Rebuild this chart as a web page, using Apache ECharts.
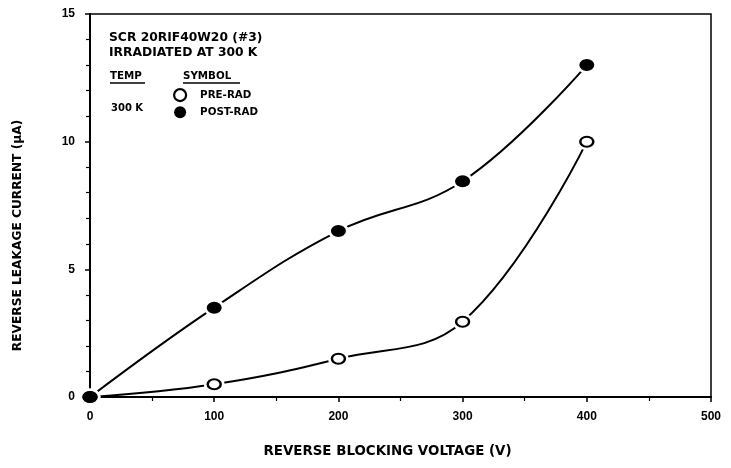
<!DOCTYPE html>
<html>
<head>
<meta charset="utf-8">
<script src="https://cdn.jsdelivr.net/npm/echarts@6/dist/echarts.min.js"></script>
<style>
html,body{margin:0;padding:0;background:#fff;}
#chart{width:731px;height:468px;}
</style>
</head>
<body>
<div id="chart"></div>
<script>
var voltage = [0, 100, 200, 300, 400];
var preRad = [0, 0.5, 1.5, 2.95, 10.0];
var postRad = [0, 3.5, 6.5, 8.45, 13.0];
var xTicks = [0, 100, 200, 300, 400, 500];
var yTicks = [0, 5, 10, 15];

function pairs(xs, ys) { return xs.map(function (x, i) { return [x, ys[i]]; }); }

var FONT = '"Liberation Sans", Arial, sans-serif';
var WIDE = '"DejaVu Sans", sans-serif';
var chart = echarts.init(document.getElementById('chart'));
var option = {
  backgroundColor: '#fff',
  animation: false,
  textStyle: { fontFamily: FONT, color: '#000' },
  grid: { left: 90, right: 20, top: 14, bottom: 71, show: true, borderColor: '#000', borderWidth: 1.5 },
  xAxis: {
    type: 'value', min: xTicks[0], max: xTicks[xTicks.length - 1], interval: 100,
    name: 'REVERSE BLOCKING VOLTAGE (V)', nameLocation: 'middle', nameGap: 48,
    nameTextStyle: { fontFamily: WIDE, fontWeight: 'bold', fontSize: 13.4, color: '#000', padding: [0, 26, 0, 0] },
    axisLine: { lineStyle: { color: '#000', width: 2 } },
    axisTick: { show: true, length: 5, lineStyle: { color: '#000', width: 1.5 } },
    minorTick: { show: true, splitNumber: 2, length: 4, lineStyle: { color: '#000', width: 1.2 } },
    axisLabel: { fontFamily: FONT, fontWeight: 'bold', fontSize: 12, color: '#000', margin: 14 },
    splitLine: { show: false }
  },
  yAxis: {
    type: 'value', min: yTicks[0], max: yTicks[yTicks.length - 1], interval: 5,
    name: 'REVERSE LEAKAGE CURRENT (\u03bcA)', nameLocation: 'middle', nameGap: 66,
    nameTextStyle: { fontFamily: WIDE, fontWeight: 'bold', fontSize: 12.2, color: '#000', padding: [0, 60, 0, 0] },
    axisLine: { show: true, lineStyle: { color: '#000', width: 2 } },
    axisTick: { show: true, length: 5, lineStyle: { color: '#000', width: 1.5 } },
    minorTick: { show: true, splitNumber: 5, length: 4, lineStyle: { color: '#000', width: 1.2 } },
    axisLabel: { fontFamily: FONT, fontWeight: 'bold', fontSize: 12, color: '#000', margin: 15 },
    splitLine: { show: false }
  },
  legend: {
    left: 173, top: 88, padding: 0, orient: 'vertical', itemGap: 4, itemWidth: 14, itemHeight: 12,
    data: [
      { name: 'PRE-RAD', icon: 'circle', itemStyle: { color: '#fff', borderColor: '#000', borderWidth: 2.2, opacity: 1 } },
      { name: 'POST-RAD', icon: 'circle', itemStyle: { color: '#000', borderColor: '#000', borderWidth: 0, opacity: 1 } }
    ],
    textStyle: { fontFamily: WIDE, fontWeight: 'bold', fontSize: 10.3, color: '#000', padding: [0, 0, 0, 8] },
    selectedMode: false
  },
  graphic: [
    { type: 'text', left: 109, top: 31, style: { text: 'SCR 20RIF40W20 (#3)\nIRRADIATED AT 300 K', font: 'bold 12.3px ' + WIDE, fill: '#000', lineHeight: 14.5 } },
    { type: 'text', left: 110, top: 71, style: { text: 'TEMP', font: 'bold 10.3px ' + WIDE, fill: '#000' } },
    { type: 'line', shape: { x1: 110, y1: 83, x2: 145, y2: 83 }, style: { stroke: '#000', lineWidth: 1.5 } },
    { type: 'text', left: 183, top: 71, style: { text: 'SYMBOL', font: 'bold 10.3px ' + WIDE, fill: '#000' } },
    { type: 'line', shape: { x1: 183, y1: 83, x2: 240, y2: 83 }, style: { stroke: '#000', lineWidth: 1.5 } },
    { type: 'text', left: 111, top: 103, style: { text: '300 K', font: 'bold 10px ' + WIDE, fill: '#000' } }
  ],
  series: [
    { name: 'pre-line', type: 'line', data: pairs(voltage, preRad), smooth: 0.4, showSymbol: false, z: 2,
      lineStyle: { color: '#000', width: 2 }, silent: true, legendHoverLink: false },
    { name: 'post-line', type: 'line', data: pairs(voltage, postRad), smooth: 0.4, showSymbol: false, z: 2,
      lineStyle: { color: '#000', width: 2 }, silent: true, legendHoverLink: false },
    { name: 'halo', type: 'scatter', data: pairs(voltage, preRad).concat(pairs(voltage, postRad)), z: 3,
      symbol: 'circle', symbolSize: [21, 17], itemStyle: { color: '#fff', opacity: 1 }, silent: true },
    { name: 'PRE-RAD', type: 'scatter', data: pairs(voltage, preRad), z: 4,
      symbol: 'circle', symbolSize: [13, 10], itemStyle: { color: '#fff', borderColor: '#000', borderWidth: 2.2, opacity: 1 } },
    { name: 'POST-RAD', type: 'scatter', data: pairs(voltage, postRad), z: 5,
      symbol: 'circle', symbolSize: [15, 12], itemStyle: { color: '#000', opacity: 1 } }
  ]
};
chart.setOption(option);
</script>
</body>
</html>
